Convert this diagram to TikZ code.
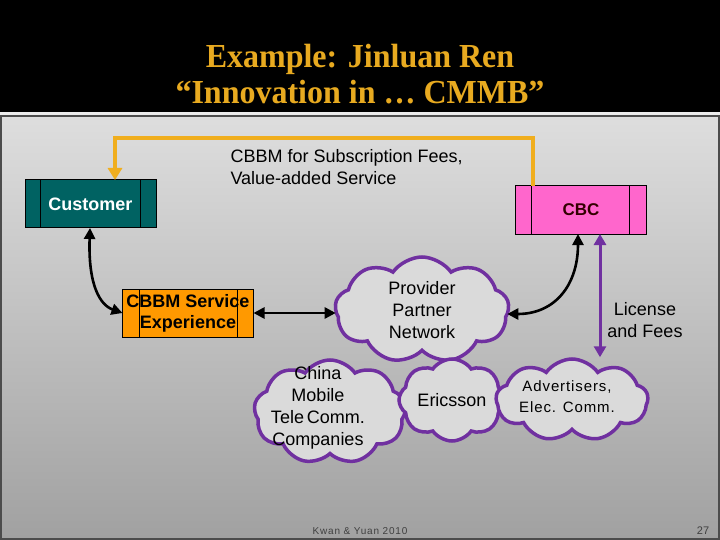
\documentclass[tikz,border=0pt]{standalone}
\usepackage{fontspec}
\setmainfont{Liberation Sans}
\newfontfamily\titlefont{Liberation Serif}
\usetikzlibrary{shapes.symbols,arrows.meta}
\definecolor{gold}{HTML}{E8AA20}
\definecolor{orng}{HTML}{F0AE1E}
\definecolor{teal2}{HTML}{006262}
\definecolor{pink2}{HTML}{FF66CC}
\definecolor{box2}{HTML}{FF9900}
\definecolor{purp}{HTML}{7030A0}
\definecolor{cloudfill}{HTML}{DADADA}
\tikzset{
  procbox/.style={draw=black,line width=1pt,minimum width=131pt,minimum height=48pt,inner sep=0pt,outer sep=0pt,font=\fontsize{18}{21}\selectfont\bfseries,align=center},
  cloudbox/.style={cloud,cloud puffs=9,cloud puff arc=110,cloud ignores aspect,draw=purp,line width=3.5pt,fill=cloudfill,inner sep=0pt,align=center,font=\fontsize{18}{22}\selectfont},
  blk/.style={line width=2.6pt,{Triangle[length=11pt,width=11pt]}-{Triangle[length=11pt,width=11pt]}},
  lbl/.style={font=\fontsize{18}{22}\selectfont,align=center}
}
\begin{document}
\begin{tikzpicture}[x=1pt,y=-1pt]
\useasboundingbox (0,0) rectangle (720,540);
\fill[black] (0,0) rectangle (720,540);
\fill[white!85!gray] (0,112) rectangle (720,115.5);
\shade[top color=black!13,bottom color=black!37] (0,115.5) rectangle (720,540);
\draw[line width=2pt,black!70] (1,116.5) rectangle (719,539);
% title
\node[text=gold,font=\titlefont\fontsize{32}{35}\selectfont\bfseries,align=center,yscale=1.05] (title) at (360,74) {Example: Jinluan Ren\\“Innovation in … CMMB”};
% boxes
\node[procbox,fill=teal2,text=white] (cust) at (90.5,204) {Customer};
\draw[line width=1pt] ([xshift=15pt]cust.north west) -- ([xshift=15pt]cust.south west);
\draw[line width=1pt] ([xshift=-16pt]cust.north east) -- ([xshift=-16pt]cust.south east);
\node[procbox,fill=pink2,text=black!80!red,font=\fontsize{17}{20}\selectfont\bfseries] (cbc) at (581,210) {CBC};
\draw[line width=1pt] ([xshift=16pt]cbc.north west) -- ([xshift=16pt]cbc.south west);
\draw[line width=1pt] ([xshift=-17pt]cbc.north east) -- ([xshift=-17pt]cbc.south east);
\node[procbox,fill=box2,text=black] (exp) at (188,313) {CBBM Service\\Experience};
\draw[line width=1pt] ([xshift=17pt]exp.north west) -- ([xshift=17pt]exp.south west);
\draw[line width=1pt] ([xshift=-16pt]exp.north east) -- ([xshift=-16pt]exp.south east);
% clouds
\node[cloudbox,minimum width=174pt,minimum height=106pt] (ppn) at (422,310) {Provider\\Partner\\Network};
\node[cloudbox,minimum width=152pt,minimum height=104pt] (cm) at (330,412) {};
\node[lbl] (cmt) at (318,408) {China\\Mobile\\Tele\,Comm.\\Companies};
\node[cloudbox,cloud puffs=8,minimum width=106pt,minimum height=82pt] (eri) at (452,400) {Ericsson};
\node[cloudbox,minimum width=152pt,minimum height=82pt] (adv) at (572,400) {};
\node[font=\fontsize{15}{21}\selectfont\addfontfeature{LetterSpace=6},align=center] (advt) at (567,397) {Advertisers,\\Elec. Comm.};
% labels
\node[lbl,anchor=north west,align=left] (sub) at (227,146) {CBBM for Subscription Fees,\\Value-added Service};
\node[lbl] (lic) at (645,320) {License\\and Fees};
% connectors
\draw[orng,line width=4pt,-{Triangle[length=12pt,width=14pt]}] ([xshift=17pt]cbc.north west) -- ++(0,-48) -| ([xshift=24.5pt]cust.north);
\draw[blk] (exp.east) -- ([xshift=2pt]exp.east -| ppn.west);
\draw[blk] ([xshift=-0.5pt]cust.south) .. controls (88,285) and (100,305) .. (exp.west);
\draw[blk] ([xshift=-3pt]cbc.south) .. controls (578,285) and (555,314) .. ([xshift=-3pt,yshift=-4pt]ppn.east);
\draw[purp,line width=3pt,{Triangle[length=11pt,width=12pt]}-{Triangle[length=11pt,width=12pt]}] ([xshift=19pt]cbc.south) -- ([xshift=28pt]adv.north);
% footer
\node[text=black!75,font=\fontsize{10}{12}\selectfont\addfontfeature{LetterSpace=8}] (foot) at (360,531) {Kwan \& Yuan 2010};
\node[text=black!75,font=\fontsize{11}{12}\selectfont] (pg) at (703,531) {27};
\end{tikzpicture}
\end{document}
